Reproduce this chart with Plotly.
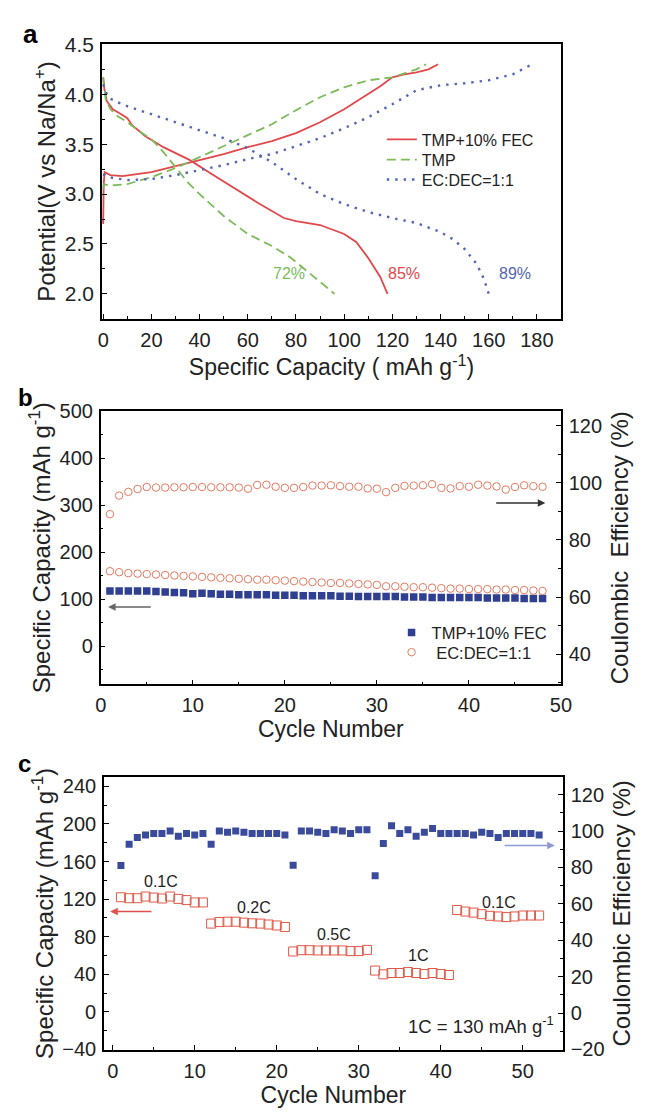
import plotly.graph_objects as go

# ---------------- Panel a data ----------------
fec_charge_x = [0, 0.2, 0.6, 3, 8, 15, 20, 30, 40, 50, 60, 70, 80, 90, 100, 110, 115, 120, 125, 130, 135, 139]
fec_charge_y = [2.7, 3.1, 3.22, 3.19, 3.18, 3.2, 3.22, 3.28, 3.34, 3.4, 3.47, 3.53, 3.61, 3.72, 3.85, 4.0, 4.08, 4.17, 4.2, 4.22, 4.25, 4.3]
fec_dis_x = [0, 0.5, 1.5, 4, 7.5, 10, 12, 17.5, 25, 36, 45, 56, 65, 75, 80, 90, 100, 105, 110, 115, 118]
fec_dis_y = [4.17, 4.05, 3.93, 3.85, 3.8, 3.76, 3.69, 3.58, 3.47, 3.34, 3.2, 3.03, 2.9, 2.76, 2.73, 2.69, 2.6, 2.52, 2.36, 2.17, 2.0]

tmp_charge_x = [0, 0.3, 2, 5, 10, 20, 30, 40, 50, 60, 70, 80, 90, 100, 110, 120, 130, 134]
tmp_charge_y = [3.05, 3.1, 3.09, 3.09, 3.1, 3.17, 3.26, 3.37, 3.48, 3.59, 3.7, 3.84, 3.97, 4.07, 4.14, 4.17, 4.25, 4.3]
tmp_dis_x = [0, 1, 3, 6, 10, 15, 20, 25, 30, 35, 40, 50, 60, 70, 78, 85, 90, 96]
tmp_dis_y = [4.17, 3.95, 3.85, 3.78, 3.72, 3.63, 3.55, 3.42, 3.27, 3.12, 3.0, 2.78, 2.6, 2.48, 2.36, 2.22, 2.12, 2.0]

ec_charge_x = [0, 2, 10, 20, 30, 40, 50, 60, 70, 80, 90, 100, 110, 120, 130, 140, 150, 160, 170, 178]
ec_charge_y = [3.2, 3.17, 3.14, 3.15, 3.19, 3.24, 3.29, 3.35, 3.4, 3.48, 3.56, 3.66, 3.77, 3.9, 4.04, 4.09, 4.11, 4.14, 4.2, 4.3]
ec_dis_x = [0, 2, 5, 10, 20, 30, 40, 50, 60, 70, 80, 90, 100, 110, 120, 130, 140, 145, 150, 155, 158, 160]
ec_dis_y = [4.1, 3.97, 3.93, 3.88, 3.8, 3.72, 3.64, 3.56, 3.46, 3.32, 3.15, 3.0, 2.9, 2.82, 2.76, 2.71, 2.62, 2.55, 2.45, 2.3, 2.15, 2.0]

a_labels = ["72%", "85%", "89%"]
a_label_x = [77, 125, 171]
a_label_y = [2.2, 2.2, 2.2]

# ---------------- Panel b data ----------------
b_cycles = list(range(1, 49))
b_fec_cap = [118, 118, 118, 118, 118, 117, 116, 115, 114, 112, 113, 112, 111, 111, 110, 110, 110, 110, 109, 109,
             109, 108, 108, 108, 108, 107, 107, 106, 106, 106, 106, 106, 105, 105, 105, 104, 104, 104, 104, 104,
             104, 103, 103, 103, 103, 102, 102, 102]
b_ec_cap = [160, 158, 156, 155, 154, 153, 152, 151, 150, 149, 148, 147, 146, 145, 144, 143, 142, 142, 141, 140,
            139, 138, 137, 136, 135, 135, 134, 133, 132, 131, 128, 128, 127, 126, 126, 125, 124, 123, 123, 122,
            122, 122, 121, 121, 120, 120, 119, 118]
b_ec_ce = [89, 95.5, 96.8, 97.8, 98.5, 98.3, 98.3, 98.4, 98.4, 98.5, 98.5, 98.4, 98.4, 98.4, 98.3, 97.9, 99.2, 99.3, 98.6, 98.2,
           98.2, 98.5, 99.0, 99.0, 99.1, 98.8, 98.6, 98.6, 98.0, 97.9, 96.7, 98.2, 98.9, 99.0, 99.1, 99.5, 98.2, 98.0, 98.8, 98.6,
           99.3, 99.0, 98.7, 97.6, 98.5, 99.1, 98.8, 98.6]

# ---------------- Panel c data ----------------
c_cycles = list(range(1, 53))
c_ce = [81, 92.8, 96.4, 97.8, 98.6, 98.6, 100, 97.1, 98.6, 97.8, 98.6, 92.8, 100, 99.3, 100, 99.3, 98.6, 98.6, 98.6, 98.6,
        97.8, 81.2, 100, 100, 99.3, 98.6, 100.7, 100, 98.6, 100.7, 100.7, 75.5, 93.1, 102.9, 98.6, 100.7, 97.1, 99.3, 101.4, 98.6,
        98.6, 98.6, 98.6, 97.8, 99.3, 98.6, 96.4, 98.6, 98.6, 98.6, 98.6, 97.8]
c_cap = [122, 121, 121, 122.8, 121.7, 120.7, 122.8, 120.3, 119, 116.5, 116.5,
         94, 95.6, 96, 96, 95, 94.3, 94, 93, 92, 90.4,
         64.3, 65.7, 65.7, 65.4, 65.4, 65.4, 65.4, 64.7, 64.7, 66,
         44, 40, 41.4, 41.4, 42.4, 41.4, 40.3, 41.4, 40.3, 39.3,
         108.5, 106.8, 105.7, 104, 102.3, 101.6, 100.9, 101.6, 102.6, 102.6, 102.6]
c_rate_labels = ["0.1C", "0.2C", "0.5C", "1C", "0.1C"]
c_rate_x = [5.9, 17.2, 27, 37.2, 47.1]
c_rate_y = [139, 110.6, 82.8, 60, 116.5]

RED = "#e2474b"
GREEN = "#7dbb5a"
BLUE = "#5266b4"
NAVY = "#2f3f92"
ORANGE = "#e27a62"
FONT = "Liberation Sans, Arial, sans-serif"

W, H = 645, 1117
def px(x):
    return x / W
def py(y):
    return 1 - y / H

fig = go.Figure()

def join(cx, cy, dx, dy):
    return cx + [None] + dx, cy + [None] + dy

x, y = join(fec_charge_x, fec_charge_y, fec_dis_x, fec_dis_y)
fig.add_trace(go.Scatter(x=x, y=y, mode="lines", name="TMP+10% FEC", line=dict(color=RED, width=1.8),
                         xaxis="x", yaxis="y", legend="legend"))
x, y = join(tmp_charge_x, tmp_charge_y, tmp_dis_x, tmp_dis_y)
fig.add_trace(go.Scatter(x=x, y=y, mode="lines", name="TMP", line=dict(color=GREEN, width=1.8, dash="9px,5px"),
                         xaxis="x", yaxis="y", legend="legend3"))
x, y = join(ec_charge_x, ec_charge_y, ec_dis_x, ec_dis_y)
fig.add_trace(go.Scatter(x=x, y=y, mode="lines", name="EC:DEC=1:1", line=dict(color=BLUE, width=2.4, dash="2.4px,6px"),
                         xaxis="x", yaxis="y", legend="legend4"))

# panel b
fig.add_trace(go.Scatter(x=b_cycles, y=b_fec_cap, mode="markers", name="TMP+10% FEC",
                         marker=dict(symbol="square", size=7.5, color=NAVY),
                         xaxis="x2", yaxis="y2", legend="legend2"))
fig.add_trace(go.Scatter(x=b_cycles, y=b_ec_cap, mode="markers", name=" EC:DEC=1:1",
                         marker=dict(symbol="circle-open", size=7.5, color=ORANGE, line=dict(width=1)),
                         xaxis="x2", yaxis="y2", legend="legend5"))
fig.add_trace(go.Scatter(x=b_cycles, y=b_ec_ce, mode="markers", name="EC:DEC CE", showlegend=False,
                         marker=dict(symbol="circle-open", size=7.5, color=ORANGE, line=dict(width=1)),
                         xaxis="x2", yaxis="y3"))

# panel c
fig.add_trace(go.Scatter(x=c_cycles, y=c_ce, mode="markers", showlegend=False,
                         marker=dict(symbol="square", size=7, color="#3b4b9c"),
                         xaxis="x3", yaxis="y5"))
fig.add_trace(go.Scatter(x=c_cycles, y=c_cap, mode="markers", showlegend=False,
                         marker=dict(symbol="square-open", size=9, color="#e05848", line=dict(width=1)),
                         xaxis="x3", yaxis="y4"))

axis_common = dict(showline=True, linecolor="black", linewidth=1.5, mirror=True, ticks="inside",
                   ticklen=5, tickwidth=1.2, tickcolor="black", showgrid=False, zeroline=False,
                   tickfont=dict(size=20, color="#222", family=FONT), ticklabelstandoff=2,
                   minor=dict(ticks="inside", ticklen=3, tickwidth=1, tickcolor="black"))

def ax(**kw):
    d = dict(axis_common)
    m = dict(axis_common["minor"])
    if "minor_dtick" in kw:
        m["dtick"] = kw.pop("minor_dtick")
    d["minor"] = m
    d.update(kw)
    return d

xt_font = dict(size=23, color="#222", family=FONT)
yt_font = dict(size=24, color="#222", family=FONT)

def leg(xp, yp, size):
    return dict(x=px(xp), y=py(yp), xanchor="left", yanchor="middle", bgcolor="rgba(0,0,0,0)",
                font=dict(size=size, family=FONT, color="#222"), tracegroupgap=0)

fig.update_layout(
    width=W, height=H,
    margin=dict(l=0, r=0, t=0, b=0),
    paper_bgcolor="white", plot_bgcolor="white",
    font=dict(family=FONT, color="#222"),
    # panel a
    xaxis=ax(domain=[px(98.6), px(570)], anchor="y", range=[-0.5, 190], tick0=0, dtick=20, minor_dtick=10,
             title=dict(text="Specific Capacity ( mAh g<sup>-1</sup>)", font=xt_font, standoff=2)),
    yaxis=ax(domain=[py(313), py(33)], anchor="x", range=[1.75, 4.5], tick0=2.0, dtick=0.5, minor_dtick=0.25,
             tickformat=".1f", tickfont=dict(size=21, color="#222", family=FONT),
             title=dict(text="Potential(V vs Na/Na<sup>+</sup>)", font=yt_font, standoff=2)),
    # panel b
    xaxis2=ax(domain=[px(97.3), px(570)], anchor="y2", range=[0, 50], tick0=0, dtick=10, minor_dtick=5,
              title=dict(text="Cycle Number", font=xt_font, standoff=0)),
    yaxis2=ax(domain=[py(686), py(407)], anchor="x2", range=[-81, 501], tick0=0, dtick=100, minor_dtick=50,
              title=dict(text="Specific Capacity (mAh g<sup>-1</sup>)", font=yt_font, standoff=2)),
    yaxis3=ax(overlaying="y2", anchor="x2", side="right", range=[29.4, 125.1], tick0=40, dtick=20, minor_dtick=10,
              mirror=False,
              title=dict(text="Coulombic  Efficiency (%)", font=yt_font, standoff=10)),
    # panel c
    xaxis3=ax(domain=[px(100.6), px(572)], anchor="y4", range=[-1.07, 54.9], tick0=0, dtick=10, minor_dtick=5,
              title=dict(text="Cycle Number", font=xt_font, standoff=6)),
    yaxis4=ax(domain=[py(1059), py(780)], anchor="x3", range=[-40.7, 250.4], tick0=0, dtick=40, minor_dtick=20,
              title=dict(text="Specific Capacity (mAh g<sup>-1</sup>)", font=yt_font, standoff=2)),
    yaxis5=ax(overlaying="y4", anchor="x3", side="right", range=[-20.4, 129.9], tick0=0, dtick=20, minor_dtick=10,
              mirror=False,
              title=dict(text="Coulombic Efficiency (%)", font=yt_font, standoff=10)),
    legend=leg(386, 130, 16),
    legend3=leg(386, 150.7, 16),
    legend4=leg(386, 171, 16),
    legend2=leg(396, 633.3, 16.5),
    legend5=leg(396, 653.3, 16.5),
)

annotations = []
# panel labels
for lab, xx, yy, fs in [("a", 25, 22, 26), ("b", 20, 393, 24), ("c", 19.5, 767, 24)]:
    annotations.append(dict(text=f"<b>{lab}</b>", x=px(xx), y=py(yy), xref="paper", yref="paper",
                            xanchor="center", yanchor="middle",
                            showarrow=False, font=dict(size=fs, family=FONT, color="black")))
# panel a percentage labels
for t, xx, yy, col in zip(a_labels, a_label_x, a_label_y, [GREEN, RED, BLUE]):
    annotations.append(dict(text=t, x=xx, y=yy, xref="x", yref="y", showarrow=False,
                            font=dict(size=16, family=FONT, color=col)))
# panel c rate labels
for t, xx, yy in zip(c_rate_labels, c_rate_x, c_rate_y):
    annotations.append(dict(text=t, x=xx, y=yy, xref="x3", yref="y4", showarrow=False,
                            font=dict(size=16, family=FONT, color="#222")))
annotations.append(dict(text="1C = 130 mAh g<sup>-1</sup>", x=44.9, y=-14, xref="x3", yref="y4", showarrow=False,
                        font=dict(size=18.5, family=FONT, color="#222")))
# arrows
annotations.append(dict(text="", x=48.3, y=92.9, xref="x2", yref="y3", ax=42.8, ay=92.9, axref="x2", ayref="y3",
                        showarrow=True, arrowhead=2, arrowsize=1, arrowwidth=1.5, arrowcolor="#333"))
annotations.append(dict(text="", x=0.8, y=84, xref="x2", yref="y2", ax=5.6, ay=84, axref="x2", ayref="y2",
                        showarrow=True, arrowhead=2, arrowsize=1, arrowwidth=1.5, arrowcolor="#666"))
annotations.append(dict(text="", x=-0.3, y=106.8, xref="x3", yref="y4", ax=4.9, ay=106.8, axref="x3", ayref="y4",
                        showarrow=True, arrowhead=2, arrowsize=1, arrowwidth=1.5, arrowcolor="#e0504a"))
annotations.append(dict(text="", x=53.9, y=92, xref="x3", yref="y5", ax=47.6, ay=92, axref="x3", ayref="y5",
                        showarrow=True, arrowhead=2, arrowsize=1, arrowwidth=1.5, arrowcolor="#8d9bd2"))
fig.update_layout(annotations=annotations)

fig.write_html("out.html", config={"displayModeBar": False},
               post_script="document.body.style.margin='0';document.body.style.overflow='hidden';")
